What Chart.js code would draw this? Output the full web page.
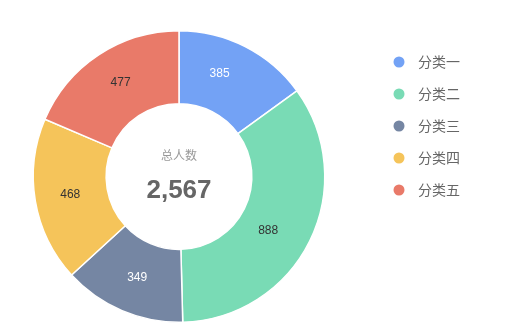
<!DOCTYPE html>
<html><head><meta charset="utf-8">
<script src="https://cdn.jsdelivr.net/npm/chart.js@4/dist/chart.umd.min.js"></script>
<style>html,body{margin:0;padding:0;background:#fff;}#wrap{width:528px;height:326px;position:relative;}</style>
</head><body><div id="wrap"><canvas id="c" width="528" height="326"></canvas></div>
<script>
const categories = ['分类一','分类二','分类三','分类四','分类五'];
const values = [385, 888, 349, 468, 477];
const colors = ['#73a2f5','#79dbb5','#7586a3','#f5c45a','#e97a69'];
const labelColors = ['#ffffff','#333333','#ffffff','#333333','#333333'];
const centerTitle = '总人数';

const FONT = '"Liberation Sans", "Noto Sans CJK SC", sans-serif';
const CJK = '"Noto Sans CJK SC", sans-serif';

const extras = {
  id: 'extras',
  afterDatasetsDraw(chart, args, opts) {
    const ctx = chart.ctx;
    const meta = chart.getDatasetMeta(0);
    ctx.save();
    ctx.textAlign = 'center';
    ctx.textBaseline = 'middle';
    ctx.font = '12px ' + FONT;
    meta.data.forEach((arc, i) => {
      const p = arc.getProps(['x','y','startAngle','endAngle','innerRadius','outerRadius'], true);
      const nudge = opts.labelNudge[i] || [0, 0];
      const a = (p.startAngle + p.endAngle) / 2 + nudge[0] * Math.PI / 180;
      const r = (p.innerRadius + p.outerRadius) / 2 + nudge[1];
      ctx.fillStyle = labelColors[i];
      ctx.fillText(String(values[i]), p.x + Math.cos(a) * r, p.y + Math.sin(a) * r);
    });
    const c = meta.data[0];
    const total = values.reduce((s, v) => s + v, 0);
    ctx.fillStyle = '#999999';
    ctx.font = '12px ' + CJK;
    ctx.fillText(centerTitle, c.x, c.y - 21);
    ctx.fillStyle = '#666666';
    ctx.font = 'bold 26px ' + FONT;
    ctx.fillText(total.toLocaleString('en-US'), c.x, c.y + 14);
    // legend
    ctx.textAlign = 'left';
    ctx.font = '14px ' + CJK;
    categories.forEach((name, i) => {
      const y = 62 + i * 32;
      ctx.beginPath();
      ctx.arc(399, y, 5.5, 0, Math.PI * 2);
      ctx.fillStyle = colors[i];
      ctx.fill();
      ctx.fillStyle = '#666666';
      ctx.fillText(name, 418, y);
    });
    ctx.restore();
  }
};

new Chart(document.getElementById('c'), {
  type: 'doughnut',
  data: {
    labels: categories,
    datasets: [{
      data: values,
      backgroundColor: colors,
      borderColor: '#ffffff',
      borderWidth: 1.5,
      hoverOffset: 0
    }]
  },
  options: {
    responsive: false,
    animation: false,
    cutout: '50%',
    layout: { padding: { top: 30, bottom: 3, left: 32, right: 202 } },
    plugins: {
      legend: { display: false },
      tooltip: { enabled: false },
      extras: { labelNudge: [[-5.5, 1.5], [5, -5], [-0.5, 0], [0, 1], [1.5, 1]] }
    }
  },
  plugins: [extras]
});
</script>
</body></html>
